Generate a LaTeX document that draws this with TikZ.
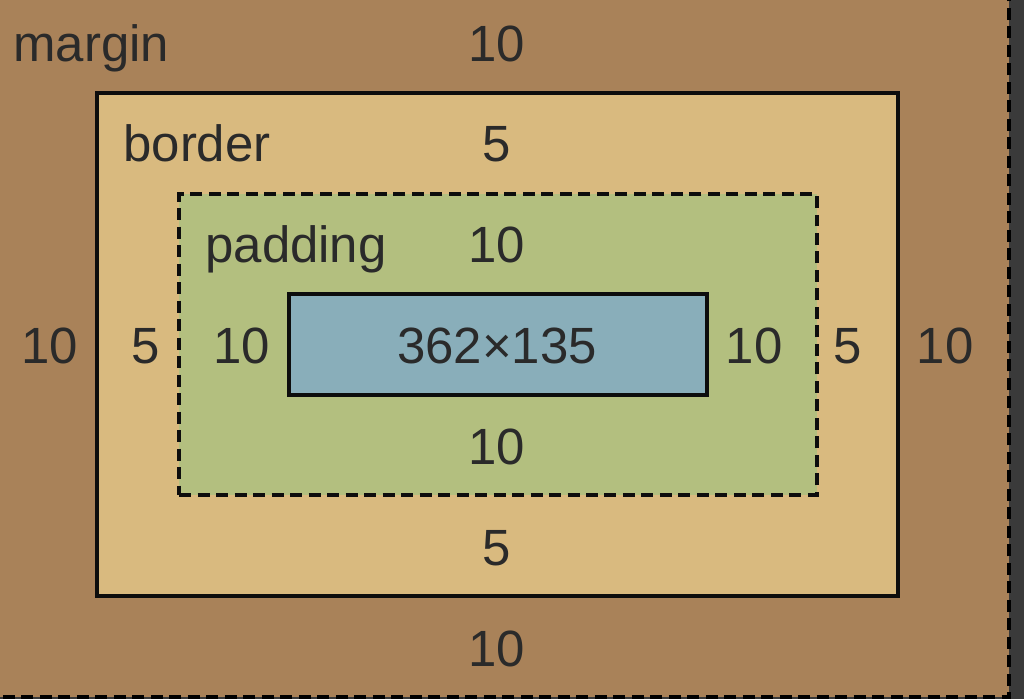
\documentclass[tikz,border=0pt]{standalone}
\usepackage{fontspec}
\setmainfont{Liberation Sans}
\usepackage{tikz}
\usetikzlibrary{positioning}
\definecolor{marginfill}{HTML}{A98259}
\definecolor{borderfill}{HTML}{D9BA7F}
\definecolor{padfill}{HTML}{B3BF7F}
\definecolor{contentfill}{HTML}{89AEBA}
\definecolor{darkstrip}{HTML}{3A3A3A}
\definecolor{labeltext}{HTML}{2A2A2A}
\tikzset{
  % --- nested boxes ----------------------------------------------------------
  box/.style={rectangle,draw=black!95,line width=2.2pt,inner sep=0pt,
              outer sep=0pt},
  borderbox/.style={box,fill=borderfill,minimum width=16.02cm,
                    minimum height=10.06cm},
  padbox/.style={box,fill=padfill,dash pattern=on 0.24cm off 0.13cm,
                 minimum width=12.76cm,minimum height=6.02cm},
  contentbox/.style={box,fill=contentfill,minimum width=8.36cm,
                     minimum height=2.02cm},
  % --- texts -----------------------------------------------------------------
  lab/.style={anchor=base,inner sep=0pt,text=labeltext,
              font=\fontsize{29}{34}\selectfont},
  layername/.style={lab,anchor=base west},
}
\begin{document}
\begin{tikzpicture}[x=0.02cm, y=-0.02cm]
  \useasboundingbox (0,0) rectangle (1024,699);
  \fill[darkstrip] (0,0) rectangle (1024,699);
  \draw[fill=marginfill,line width=2.2pt,dash pattern=on 0.24cm off 0.13cm]
        (-20,-20) rectangle (1009,697);

  \node[borderbox]  (border)  at (497.5,344.5) {};
  \node[padbox]     (padding) at (498,344.5)   {};
  \node[contentbox] (content) at (498,344.5)   {};

  % names of the layers
  \node[layername] (mname) at (13,62)  {margin};
  \node[layername] (bname) at (123,162) {border};
  \node[layername] (pname) at (205,262) {padding};

  % top values
  \node[lab] (mtop) at (497,62)  {10};
  \node[lab] (btop) at (497,162) {5};
  \node[lab] (ptop) at (497,262) {10};
  \node[lab] (size) at (497,363) {362×135};

  % bottom values
  \node[lab] (pbot) at (497,464) {10};
  \node[lab] (bbot) at (497,565) {5};
  \node[lab] (mbot) at (497,666) {10};

  % side values
  \node[lab] (mleft)  at (50,363)  {10};
  \node[lab] (bleft)  at (146,363) {5};
  \node[lab] (pleft)  at (242,363) {10};
  \node[lab] (pright) at (754,363) {10};
  \node[lab] (bright) at (848,363) {5};
  \node[lab] (mright) at (945,363) {10};
\end{tikzpicture}
\end{document}
